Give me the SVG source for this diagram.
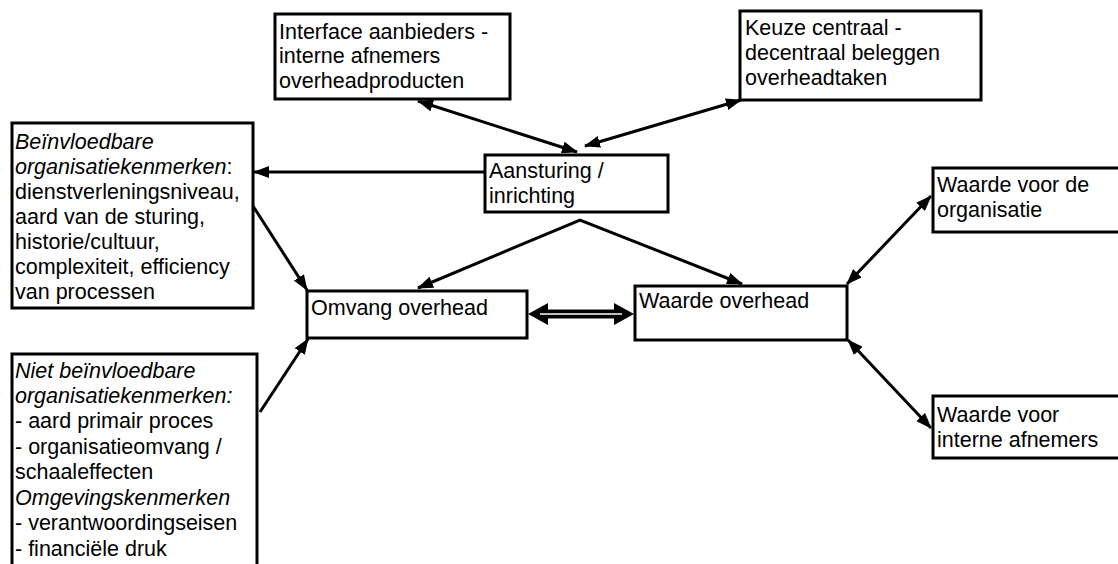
<svg xmlns="http://www.w3.org/2000/svg" width="1118" height="564" viewBox="0 0 1118 564">
<defs>
<style>
.box{fill:#fff;stroke:#000;stroke-width:3}
.t{font-family:"Liberation Sans",Arial,sans-serif;font-size:21.5px;fill:#000}
.i{font-style:italic}
.c{fill:none;stroke:#000;stroke-width:3;stroke-linejoin:miter}
</style>
<marker id="ah" viewBox="0 0 16 12" refX="15" refY="6" markerWidth="16" markerHeight="12" markerUnits="userSpaceOnUse" orient="auto-start-reverse">
<path d="M0,0 L16,6 L0,12 z" fill="#000"/>
</marker>
</defs>
<rect width="1118" height="564" fill="#fff"/>

<g id="interface">
<rect class="box" x="275" y="14" width="235" height="85"/>
<text class="t" x="279" y="39">Interface aanbieders -</text>
<text class="t" x="279" y="63">interne afnemers</text>
<text class="t" x="279" y="88">overheadproducten</text>
</g>

<g id="keuze">
<rect class="box" x="740" y="11" width="241" height="89"/>
<text class="t" x="745" y="35">Keuze centraal -</text>
<text class="t" x="745" y="60">decentraal beleggen</text>
<text class="t" x="745" y="85">overheadtaken</text>
</g>

<g id="beinvloedbaar">
<rect class="box" x="12" y="123" width="241" height="185"/>
<text class="t i" x="15" y="149">Beïnvloedbare</text>
<text class="t" x="15" y="174"><tspan class="i">organisatiekenmerken</tspan>:</text>
<text class="t" x="15" y="199">dienstverleningsniveau,</text>
<text class="t" x="15" y="224">aard van de sturing,</text>
<text class="t" x="15" y="249">historie/cultuur,</text>
<text class="t" x="15" y="274">complexiteit, efficiency</text>
<text class="t" x="15" y="299">van processen</text>
</g>

<g id="aansturing">
<rect class="box" x="485" y="155" width="183" height="57"/>
<text class="t" x="489" y="178">Aansturing /</text>
<text class="t" x="489" y="203">inrichting</text>
</g>

<g id="omvang">
<rect class="box" x="307" y="291" width="220" height="47"/>
<text class="t" x="311" y="315">Omvang overhead</text>
</g>

<g id="waarde">
<rect class="box" x="635" y="286" width="212" height="54"/>
<text class="t" x="639" y="308">Waarde overhead</text>
</g>

<g id="waarde-org">
<rect class="box" x="933" y="168" width="200" height="64"/>
<text class="t" x="937" y="192">Waarde voor de</text>
<text class="t" x="937" y="217">organisatie</text>
</g>

<g id="waarde-intern">
<rect class="box" x="933" y="396" width="200" height="62"/>
<text class="t" x="937" y="422">Waarde voor</text>
<text class="t" x="937" y="447">interne afnemers</text>
</g>

<g id="niet-beinvloedbaar">
<rect class="box" x="12" y="354" width="245" height="220"/>
<text class="t i" x="15" y="378">Niet beïnvloedbare</text>
<text class="t i" x="15" y="403">organisatiekenmerken:</text>
<text class="t" x="15" y="428">- aard primair proces</text>
<text class="t" x="15" y="454">- organisatieomvang /</text>
<text class="t" x="15" y="479">schaaleffecten</text>
<text class="t i" x="15" y="505">Omgevingskenmerken</text>
<text class="t" x="15" y="530">- verantwoordingseisen</text>
<text class="t" x="15" y="556">- financiële druk</text>
</g>

<g id="connectors">
<path class="c" d="M418,101 L577,152" marker-start="url(#ah)" marker-end="url(#ah)"/>
<path class="c" d="M741,100 L585,146" marker-start="url(#ah)" marker-end="url(#ah)"/>
<path class="c" d="M484,172 L254,172" marker-end="url(#ah)"/>
<path class="c" d="M418,288 L580,220 L742,284" marker-start="url(#ah)" marker-end="url(#ah)"/>
<path class="c" d="M253,206 L307,290" marker-end="url(#ah)"/>
<path class="c" d="M260,412 L308,339" marker-end="url(#ah)"/>
<path class="c" d="M847,284 L931,196" marker-start="url(#ah)" marker-end="url(#ah)"/>
<path class="c" d="M848,340 L931,428" marker-start="url(#ah)" marker-end="url(#ah)"/>
<polygon points="528,314 548,303 548,309.5 614,309.5 614,303 634,314 614,325 614,318.5 548,318.5 548,325" fill="#000"/>
<line x1="540" y1="314" x2="622" y2="314" stroke="#fff" stroke-width="1.5"/>
</g>
</svg>
